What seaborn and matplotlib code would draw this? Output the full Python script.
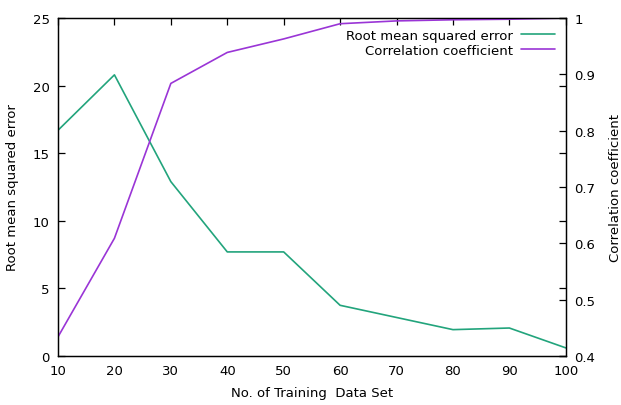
import numpy as np
import pandas as pd
import matplotlib
matplotlib.use("Agg")
import matplotlib.pyplot as plt
import seaborn as sns

# data
train_sizes = [10, 20, 30, 40, 50, 60, 70, 80, 90, 100]
rmse = [16.7, 20.8, 12.9, 7.7, 7.7, 3.75, 2.85, 1.95, 2.07, 0.6]
corr = [0.434, 0.609, 0.884, 0.939, 0.963, 0.990, 0.995, 0.997, 0.998, 1.0]

green = "#22a47c"
purple = "#9a35d6"

sns.set_style("white")
plt.rcParams['font.family'] = ['DejaVu Sans']
plt.rcParams['font.size'] = 9.5
plt.rcParams['text.color'] = 'black'
plt.rcParams['axes.labelcolor'] = 'black'
plt.rcParams['xtick.color'] = 'black'
plt.rcParams['ytick.color'] = 'black'

df = pd.DataFrame({'n': train_sizes, 'rmse': rmse, 'corr': corr})

fig = plt.figure(figsize=(6.21, 4.06), dpi=100)
ax = fig.add_axes([0.0934, 0.1207, 0.8177, 0.8323])
ax2 = ax.twinx()

sns.lineplot(data=df, x='n', y='rmse', ax=ax, color=green, lw=1.2,
             label='Root mean squared error', legend=False)
sns.lineplot(data=df, x='n', y='corr', ax=ax2, color=purple, lw=1.2,
             label='Correlation coefficient', legend=False)

ax.set_xlim(10, 100)
ax.set_ylim(0, 25)
ax2.set_ylim(0.4, 1.0)
ax.set_xticks(range(10, 101, 10))
ax.set_yticks(range(0, 26, 5))
ax2.set_yticks([0.4, 0.5, 0.6, 0.7, 0.8, 0.9, 1.0])
ax2.set_yticklabels(['0.4', '0.5', '0.6', '0.7', '0.8', '0.9', '1'])

ax.tick_params(axis='both', direction='in', length=5, width=0.9, color='black',
               labelcolor='black', top=True, right=True, labelsize=9.5, pad=6)
ax2.tick_params(axis='y', direction='in', length=5, width=0.9, color='black',
                labelcolor='black', labelsize=9.5, pad=6)

for a in (ax, ax2):
    for s in a.spines.values():
        s.set_color('black')
        s.set_linewidth(0.9)

ax.set_xlabel('No. of Training  Data Set', fontsize=9.5, labelpad=6, color='black')
ax.set_ylabel('Root mean squared error', fontsize=9.5, labelpad=10, color='black')
ax2.set_ylabel('Correlation coefficient', fontsize=9.5, labelpad=10, color='black')

h1, l1 = ax.get_legend_handles_labels()
h2, l2 = ax2.get_legend_handles_labels()
leg = ax2.legend(h1 + h2, l1 + l2, loc='upper right', frameon=False,
                 markerfirst=False, fontsize=9.5, handlelength=2.6,
                 borderaxespad=0.4, labelspacing=0.15, handletextpad=0.6)
for t in leg.get_texts():
    t.set_color('black')

fig.savefig('out.png', dpi=100)
